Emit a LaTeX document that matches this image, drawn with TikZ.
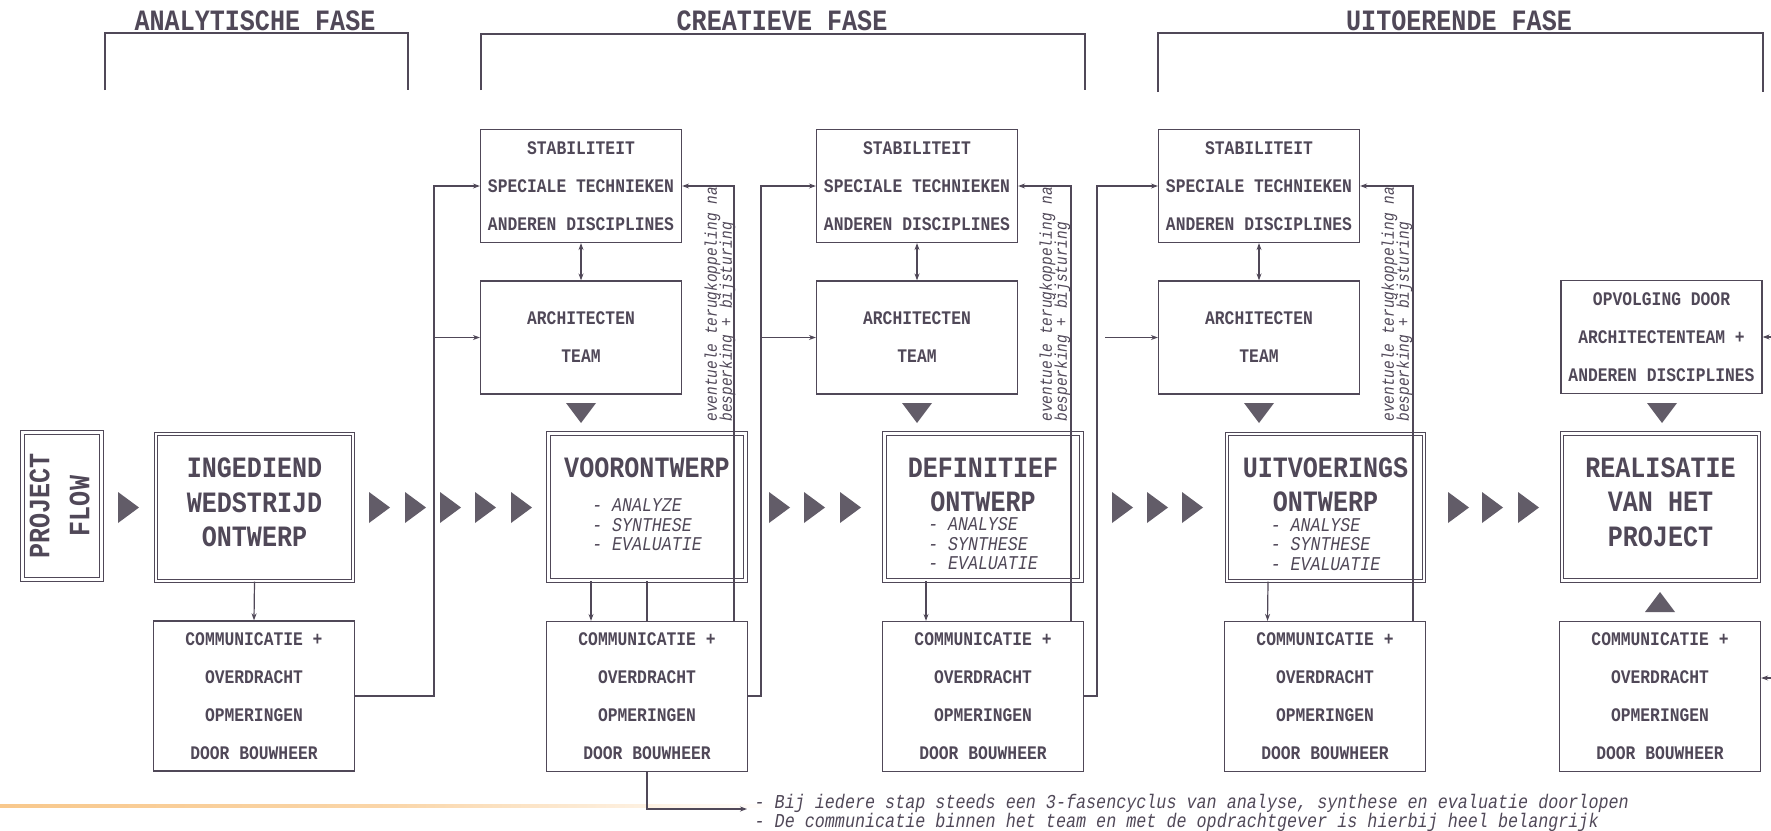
\documentclass[tikz,border=0pt]{standalone}
\usepackage{fontspec}
\newfontfamily\cour[FakeStretch=0.85]{Liberation Mono}
\usetikzlibrary{arrows.meta,calc}
\definecolor{ink}{RGB}{80,72,88}
\definecolor{trifill}{RGB}{98,92,104}
\definecolor{hilite}{RGB}{248,200,140}
\newcommand\lowstrut[1]{\rule[-#1]{0pt}{#1}}
\newcommand\highstrut[1]{\rule{0pt}{#1}}
\newcommand\boxtitle{\bfseries\upshape\fontsize{29.5}{19.5}\selectfont}
\newcommand\boxitem{\mdseries\itshape\fontsize{19.5}{19.5}\selectfont}
\tikzset{
  arr/.style={-{Stealth[length=7pt,width=5pt]}},
  arrtwo/.style={{Stealth[length=7pt,width=5pt]}-{Stealth[length=7pt,width=5pt]}},
  sbox/.style={draw, rectangle, minimum width=201pt, minimum height=113pt, inner sep=0pt, align=center,
    font=\cour\bfseries\fontsize{19.2}{38}\selectfont},
  cbox/.style={sbox, minimum height=150pt},
  bbox/.style={draw, double, double distance=2.4pt, rectangle, minimum width=197pt, minimum height=147pt,
    inner sep=0pt, align=center, font={\cour\fontsize{19.5}{19.5}\selectfont\lineskiplimit=-50pt\relax}},
  bigtxt/.style={font={\cour\bfseries\fontsize{29.5}{34.5}\selectfont\lineskiplimit=-50pt\relax}},
  phase/.style={font=\cour\bfseries\fontsize{29.5}{34.5}\selectfont, inner sep=0pt},
  tri/.style={fill=trifill},
  rottxt/.style={rotate=90, anchor=south west, align=left, inner sep=0pt,
    font={\cour\itshape\fontsize{17}{15}\selectfont\lineskiplimit=-50pt\relax}},
  notetxt/.style={anchor=west, align=left, inner sep=0pt,
    font={\cour\itshape\fontsize{19.7}{19}\selectfont\lineskiplimit=-50pt\relax}},
}
\begin{document}
\begin{tikzpicture}[x=1pt,y=-1pt,line width=1.2pt,color=ink,text=ink]
\fill[white] (0,0) rectangle (1771,830);
\useasboundingbox (0,0) rectangle (1771,830);

% highlight stroke of the scan
\shade[left color=hilite, right color=white, middle color=hilite!75] (0,804) rectangle (780,807);

% phase titles and brackets
\node[phase] (ph1) at (255,21) {ANALYTISCHE FASE};
\node[phase] (ph2) at (782,21) {CREATIEVE FASE};
\node[phase] (ph3) at (1459,21) {UITOERENDE FASE};
\draw (105,90) -- (105,33) -- (408,33) -- (408,90);
\draw (481,90) -- (481,34) -- (1085,34) -- (1085,90);
\draw (1158,92) -- (1158,33) -- (1763,33) -- (1763,92);

% column 1
\node[bbox, bigtxt, rotate=90, minimum width=147pt, minimum height=79pt,
      font={\cour\bfseries\fontsize{29.5}{40}\selectfont\lineskiplimit=-50pt\relax}] (pf) at (62,506)
      {PROJECT\\FLOW\lowstrut{5pt}};
\node[bbox, bigtxt] (ing) at (254.5,507.5) {INGEDIEND\\WEDSTRIJD\\ONTWERP\lowstrut{10pt}};
\node[cbox] (comm1) at (254,696) {COMMUNICATIE +\\OVERDRACHT\\OPMERINGEN\\DOOR BOUWHEER};

% column 2
\node[sbox] (stab1) at (581,186) {STABILITEIT\\SPECIALE TECHNIEKEN\\ANDEREN DISCIPLINES};
\node[sbox] (arch1) at (581,337.5) {ARCHITECTEN\\TEAM};
\node[bbox] (voor) at (647,507) {{\boxtitle VOORONTWERP}\\[14.2pt]
  {\boxitem - ANALYZE\phantom{XX}}\\{\boxitem - SYNTHESE\phantom{X}}\\{\boxitem - EVALUATIE}\lowstrut{5.3pt}};
\node[cbox] (commv) at (647,696.5) {COMMUNICATIE +\\OVERDRACHT\\OPMERINGEN\\DOOR BOUWHEER};

% column 3
\node[sbox] (stab2) at (917,186) {STABILITEIT\\SPECIALE TECHNIEKEN\\ANDEREN DISCIPLINES};
\node[sbox] (arch2) at (917,337.5) {ARCHITECTEN\\TEAM};
\node[bbox] (def) at (983,507) {{\boxtitle\highstrut{33pt}DEFINITIEF}\\[14.5pt]{\boxtitle ONTWERP}\\
  {\boxitem - ANALYSE\phantom{XX}}\\{\boxitem - SYNTHESE\phantom{X}}\\{\boxitem - EVALUATIE}};
\node[cbox] (commd) at (983,696.5) {COMMUNICATIE +\\OVERDRACHT\\OPMERINGEN\\DOOR BOUWHEER};

% column 4
\node[sbox] (stab3) at (1259,186) {STABILITEIT\\SPECIALE TECHNIEKEN\\ANDEREN DISCIPLINES};
\node[sbox] (arch3) at (1259,337.5) {ARCHITECTEN\\TEAM};
\node[bbox] (uitv) at (1325.5,507.5) {{\boxtitle\highstrut{33pt}UITVOERINGS}\\[14.5pt]{\boxtitle ONTWERP}\\
  {\boxitem - ANALYSE\phantom{XX}}\\{\boxitem - SYNTHESE\phantom{X}}\\{\boxitem - EVALUATIE}};
\node[cbox] (commu) at (1325,696.5) {COMMUNICATIE +\\OVERDRACHT\\OPMERINGEN\\DOOR BOUWHEER};

% column 5
\node[sbox] (opv) at (1661.5,337) {OPVOLGING DOOR\\ARCHITECTENTEAM +\\ANDEREN DISCIPLINES};
\node[bbox, bigtxt] (real) at (1660.5,507) {REALISATIE\\VAN HET\\PROJECT\lowstrut{10pt}};
\node[cbox] (comm4) at (1660,696.5) {COMMUNICATIE +\\OVERDRACHT\\OPMERINGEN\\DOOR BOUWHEER};

% feedback labels
\node[rottxt] (fb1) at (736,422) {eventuele terugkoppeling na\\besperking + bijsturing};
\node[rottxt] (fb2) at (1071,422) {eventuele terugkoppeling na\\besperking + bijsturing};
\node[rottxt] (fb3) at (1413,422) {eventuele terugkoppeling na\\besperking + bijsturing};

% note
\node[notetxt] (note) at (754,813) {- Bij iedere stap steeds een 3-fasencyclus van analyse, synthese en evaluatie doorlopen\\
- De communicatie binnen het team en met de opdrachtgever is hierbij heel belangrijk};

% flow triangles
\foreach \x in {118,369,405,440,475,511,769,804,840,1112,1147,1182,1448,1482,1518}
  \fill[tri] (\x,492) -- (\x+21,507.5) -- (\x,523) -- cycle;
\foreach \x in {581,917,1259,1662}
  \fill[tri] (\x-15,403) -- (\x+15,403) -- (\x,423) -- cycle;
\fill[tri] (1645,612) -- (1675,612) -- (1660,592) -- cycle;

% coordinates for junctions
\coordinate (j1) at (434,186);
\coordinate (j2) at (761,186);
\coordinate (j3) at (1097,186);
\coordinate (a3) at (1105,337.5);
\coordinate (f1) at (734,186);
\coordinate (f2) at (1071,186);
\coordinate (f3) at (1413,186);
\coordinate (e1) at (1771,337);
\coordinate (e2) at (1771,678);

% connectors
\draw[arr] (ing.south) -- (comm1.north);
\draw[arr] (comm1.east) -| (j1) -- (stab1.west);
\draw[arr] (j1 |- arch1.west) -- (arch1.west);
\draw[arrtwo] (stab1.south) -- (arch1.north);

\draw[arr] ([xshift=-56pt]voor.south) -- ([xshift=-56pt]commv.north);
\draw (voor.south) -- (commv.north);
\draw[arr] (commv.south) |- ([xshift=-7pt,yshift=4pt]note.west);
\draw[arr] (f1 |- commv.north) -- (f1) -- (stab1.east);
\draw[arr] (commv.east |- 0,696) -| (j2) -- (stab2.west);
\draw[arr] (j2 |- arch2.west) -- (arch2.west);
\draw[arrtwo] (stab2.south) -- (arch2.north);

\draw[arr] ([xshift=-57pt]def.south) -- ([xshift=-57pt]commd.north);
\draw[arr] (f2 |- commd.north) -- (f2) -- (stab2.east);
\draw[arr] (commd.east |- 0,696) -| (j3) -- (stab3.west);
\draw[arr] (a3) -- (arch3.west);
\draw[arrtwo] (stab3.south) -- (arch3.north);

\draw[arr] ([xshift=-57.5pt]uitv.south) -- ([xshift=-57.5pt]commu.north);
\draw[arr] (f3 |- commu.north) -- (f3) -- (stab3.east);

\draw[arr] (e1) -- (opv.east);
\draw[arr] (e2) -- (comm4.east |- e2);
\end{tikzpicture}
\end{document}
